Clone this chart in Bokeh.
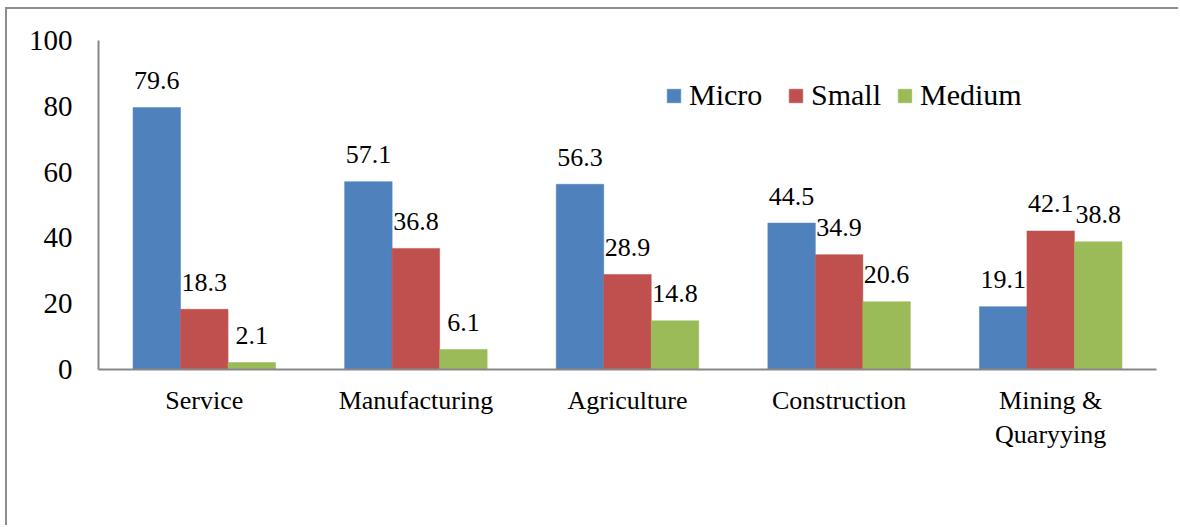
from bokeh.plotting import figure
from bokeh.models import ColumnDataSource, FactorRange, Legend, LegendItem
from bokeh.transform import dodge
from bokeh.core.properties import value
from bokeh.embed import file_html
from bokeh.resources import INLINE

categories = ["Service", "Manufacturing", "Agriculture", "Construction", "Mining &\nQuaryying"]
micro = [79.6, 57.1, 56.3, 44.5, 19.1]
small = [18.3, 36.8, 28.9, 34.9, 42.1]
medium = [2.1, 6.1, 14.8, 20.6, 38.8]
series_names = ["Micro", "Small", "Medium"]
colors = ["#4F81BD", "#C0504D", "#9BBB59"]
y_ticks = [0, 20, 40, 60, 80, 100]

FONT = "Liberation Serif"

src = ColumnDataSource(dict(
    cat=categories,
    micro=micro, small=small, medium=medium,
    micro_lbl=[f"{v:.1f}" for v in micro],
    small_lbl=[f"{v:.1f}" for v in small],
    medium_lbl=[f"{v:.1f}" for v in medium],
))

p = figure(x_range=FactorRange(*categories), y_range=(0, 100),
           width=1173, height=518, output_backend="svg", toolbar_location=None,
           min_border_left=91, min_border_top=31, min_border_right=24, min_border_bottom=158)
p.styles = {"margin-left": "5px", "margin-top": "7px",
            "border-top": "2px solid #8e8e8e", "border-left": "2px solid #8e8e8e",
            "border-right": "none", "border-bottom": "none"}
p.outline_line_color = None
p.xgrid.grid_line_color = None
p.ygrid.grid_line_color = None

bw = 0.2245
offsets = [-bw, 0.0, bw]
fields = ["micro", "small", "medium"]
renderers = []
for f, off, c in zip(fields, offsets, colors):
    r = p.vbar(x=dodge("cat", off, range=p.x_range), top=f, width=bw, source=src,
               fill_color=c, line_color=c, line_width=0.5)
    renderers.append(r)
    p.text(x=dodge("cat", off, range=p.x_range), y=f, text=f + "_lbl", source=src,
           text_font=value(FONT), text_font_size="26px", text_color="black",
           text_align="center", text_baseline="alphabetic", y_offset=-27)

leg_x = [567, 689, 798]
for name, r, lx in zip(series_names, renderers, leg_x):
    leg = Legend(items=[LegendItem(label=name, renderers=[r])], location=(lx, 257),
                 orientation="horizontal", glyph_width=17, glyph_height=17,
                 label_standoff=7, padding=0, margin=0, spacing=0,
                 border_line_color=None, background_fill_alpha=0,
                 label_text_font=FONT, label_text_font_size="30px", label_text_color="black")
    p.add_layout(leg, "center")

for ax in (p.xaxis[0], p.yaxis[0]):
    ax.axis_line_color = "#878787"
    ax.axis_line_width = 2
    ax.major_tick_line_color = None
    ax.minor_tick_line_color = None
    ax.major_tick_out = 0
    ax.major_tick_in = 0
    ax.major_label_text_font = FONT
    ax.major_label_text_color = "black"

p.yaxis.ticker = y_ticks
p.yaxis.major_label_text_font_size = "29px"
p.yaxis.major_label_standoff = 26
p.xaxis.major_label_text_font_size = "26px"
p.xaxis.major_label_standoff = 16
p.xaxis.group_text_font_size = "26px"

open("out.html", "w").write(file_html(p, INLINE))
